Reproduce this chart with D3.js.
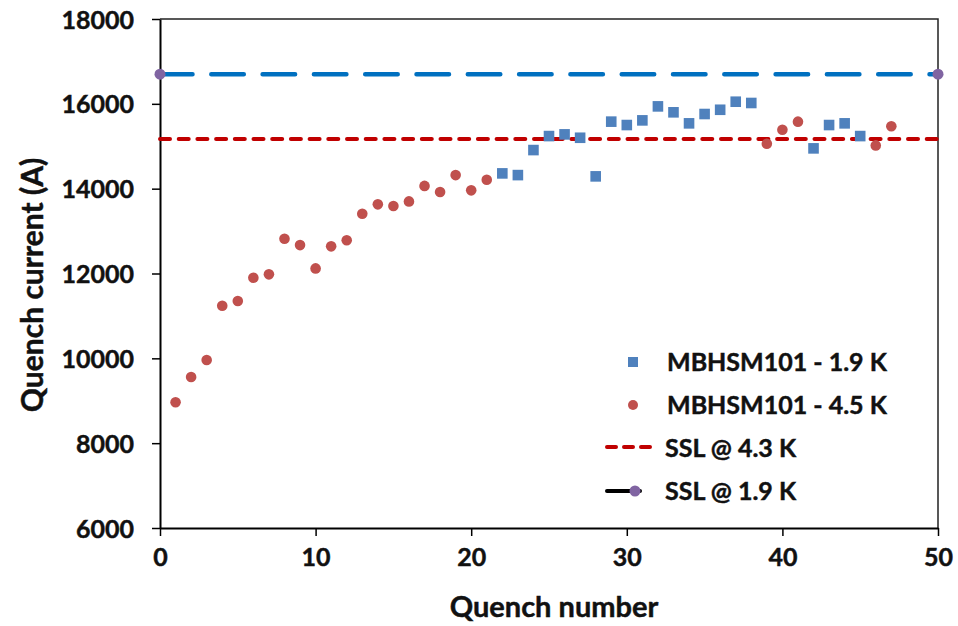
<!DOCTYPE html>
<html lang="en">
<head>
<meta charset="utf-8">
<title>Quench current</title>
<script src="https://d3js.org/d3.v7.min.js"></script>
<style>
	body { margin: 0; background: #fff; }
	text { font-family: Lato, "Open Sans", sans-serif; font-weight: bold; fill: #111; stroke: #111; stroke-width: 0.45px; }
</style>
</head>
<body>
<svg class="chart"></svg>

<script>
//quench data
var quench19 = [22, 23, 24, 25, 26, 27, 28, 29, 30, 31, 32, 33, 34, 35, 36, 37, 38, 42, 43, 44, 45];
var current19 = [14360, 14320, 14910, 15240, 15280, 15200, 14290, 15580, 15500, 15610, 15940, 15800, 15540, 15760, 15860, 16050, 16020, 14950, 15500, 15540, 15240];

var quench45 = [1, 2, 3, 4, 5, 6, 7, 8, 9, 10, 11, 12, 13, 14, 15, 16, 17, 18, 19, 20, 21, 39, 40, 41, 46, 47];
var current45 = [8965, 9560, 9960, 11240, 11350, 11900, 11980, 12820, 12670, 12120, 12640, 12785, 13410, 13630, 13590, 13700, 14065, 13920, 14320, 13960, 14210, 15060, 15390, 15580, 15020, 15470];

//short sample limits
var ssl43 = 15170;
var ssl19 = 16700;
var sslRange = [0, 50];

var xTicks = [0, 10, 20, 30, 40, 50];
var yTicks = [6000, 8000, 10000, 12000, 14000, 16000, 18000];

var legendNames = ["MBHSM101 - 1.9 K", "MBHSM101 - 4.5 K", "SSL @ 4.3 K", "SSL @ 1.9 K"];

//set up chart
var margin = {top: 19, right: 20, bottom: 98, left: 160};
var width = 778;
var height = 509;

var svg = d3.select(".chart")
	.attr("width", 958)
	.attr("height", 626);

var chart = svg.append("g")
	.attr("transform", "translate(" + margin.left + "," + margin.top + ")");

var x = d3.scaleLinear().domain([0, 50]).range([0, width]);
var y = d3.scaleLinear().domain([6000, 18000]).range([height, 0]);

//frame on top and right
chart.append("path")
	.attr("d", "M0,0H" + width + "V" + height)
	.attr("fill", "none")
	.attr("stroke", "#222")
	.attr("stroke-width", 1.5);

//bottom axis
var xAxis = chart.append("g")
	.attr("transform", "translate(0," + height + ")")
	.call(d3.axisBottom(x).tickValues(xTicks).tickFormat(d3.format("d"))
		.tickSize(8).tickPadding(12).tickSizeOuter(0));

//left axis
var yAxis = chart.append("g")
	.call(d3.axisLeft(y).tickValues(yTicks).tickFormat(d3.format("d"))
		.tickSize(8).tickPadding(18).tickSizeOuter(0));

[xAxis, yAxis].forEach(function(a){
	a.select(".domain").attr("stroke", "#000").attr("stroke-width", 2);
	a.selectAll(".tick line").attr("stroke", "#000").attr("stroke-width", 1.5);
	a.selectAll(".tick text").style("font-size", "25px").attr("fill", "#111");
});
yAxis.selectAll(".tick text").attr("dy", "0.36em");

//axis titles
svg.append("text")
	.attr("x", margin.left + width / 2 + 5)
	.attr("y", 617)
	.attr("text-anchor", "middle")
	.style("font-size", "29px")
	.text("Quench number");

svg.append("text")
	.attr("transform", "translate(43,285) rotate(-90)")
	.attr("text-anchor", "middle")
	.style("font-size", "30px")
	.text("Quench current (A)");

//SSL lines
chart.append("line")
	.attr("x1", x(sslRange[0])).attr("x2", x(sslRange[1]))
	.attr("y1", y(ssl19)).attr("y2", y(ssl19))
	.attr("stroke", "#0070C0")
	.attr("stroke-width", 4.5)
	.attr("stroke-linecap", "round")
	.attr("stroke-dasharray", "32.5,18.8");

chart.append("line")
	.attr("x1", x(sslRange[0])).attr("x2", x(sslRange[1]))
	.attr("y1", y(ssl43)).attr("y2", y(ssl43))
	.attr("stroke", "#C00000")
	.attr("stroke-width", 4)
	.attr("stroke-linecap", "round")
	.attr("stroke-dasharray", "10,8.7");

chart.selectAll(".sslDot")
	.data(sslRange)
	.enter()
	.append("circle")
	.attr("class", "sslDot")
	.attr("cx", function(d){ return x(d); })
	.attr("cy", y(ssl19))
	.attr("r", 5.5)
	.attr("fill", "#8064A2");

//data points
chart.selectAll(".pt45")
	.data(quench45)
	.enter()
	.append("circle")
	.attr("class", "pt45")
	.attr("cx", function(d){ return x(d); })
	.attr("cy", function(d, i){ return y(current45[i]); })
	.attr("r", 5.3)
	.attr("fill", "#C0504D");

chart.selectAll(".pt19")
	.data(quench19)
	.enter()
	.append("rect")
	.attr("class", "pt19")
	.attr("x", function(d){ return x(d) - 5.3; })
	.attr("y", function(d, i){ return y(current19[i]) - 5.3; })
	.attr("width", 10.6)
	.attr("height", 10.6)
	.attr("fill", "#4F81BD");

//legend
var legend = svg.append("g").attr("transform", "translate(605,362)");
var rowGap = 43;

legend.append("rect")
	.attr("x", 23).attr("y", -5).attr("width", 10).attr("height", 10)
	.attr("fill", "#4F81BD");
legend.append("circle")
	.attr("cx", 28).attr("cy", rowGap).attr("r", 5)
	.attr("fill", "#C0504D");
legend.append("line")
	.attr("x1", 2).attr("x2", 51)
	.attr("y1", rowGap * 2 - 1).attr("y2", rowGap * 2 - 1)
	.attr("stroke", "#C00000")
	.attr("stroke-width", 4)
	.attr("stroke-linecap", "round")
	.attr("stroke-dasharray", "9,8");
legend.append("line")
	.attr("x1", 2).attr("x2", 35)
	.attr("y1", rowGap * 3).attr("y2", rowGap * 3)
	.attr("stroke", "#000")
	.attr("stroke-width", 4)
	.attr("stroke-linecap", "round");
legend.append("circle")
	.attr("cx", 30).attr("cy", rowGap * 3).attr("r", 5.5)
	.attr("fill", "#8064A2");

legend.selectAll(".legendText")
	.data(legendNames)
	.enter()
	.append("text")
	.attr("class", "legendText")
	.attr("x", function(d, i){ return i < 2 ? 62 : 60; })
	.attr("y", function(d, i){ return i * rowGap; })
	.attr("dy", "0.36em")
	.style("font-size", "25px")
	.text(function(d){ return d; });
</script>
</body>
</html>
